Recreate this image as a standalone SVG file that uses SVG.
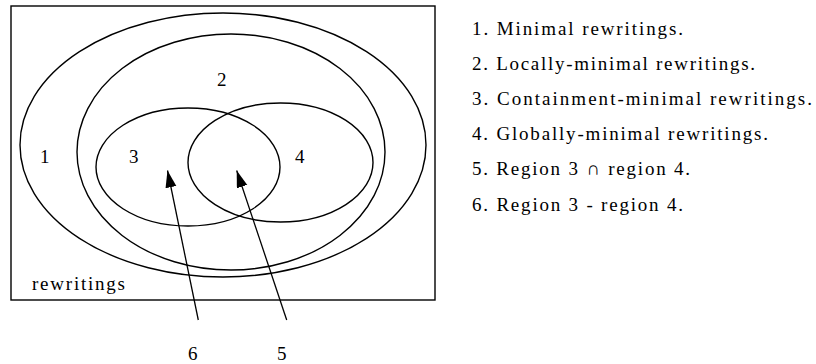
<svg xmlns="http://www.w3.org/2000/svg" width="816" height="364" viewBox="0 0 816 364">
<style>
.s{fill:none;stroke:#000;stroke-width:1.4}
.t{font-family:"Liberation Serif",serif;font-size:19px;fill:#000}
.c{stroke:#000;stroke-width:1.3;fill:none}
</style>
<defs>
<marker id="ah" markerUnits="userSpaceOnUse" markerWidth="18" markerHeight="12" refX="17" refY="5.5" orient="auto">
<path d="M0,0 L17,5.5 L0,11 Z" fill="#000"/>
</marker>
</defs>
<rect width="816" height="364" fill="#fff"/>
<g id="universe">
<rect class="s" x="11" y="6" width="424" height="294"/>
<text class="t" x="32" y="289.5" textLength="93" lengthAdjust="spacing">rewritings</text>
</g>
<g id="region1">
<ellipse class="s" cx="223" cy="145" rx="203" ry="132"/>
<text class="t" x="40" y="163">1</text>
</g>
<g id="region2">
<ellipse class="s" cx="231" cy="152" rx="154" ry="118"/>
<text class="t" x="217" y="86">2</text>
</g>
<g id="region3">
<ellipse class="s" cx="188" cy="167" rx="92" ry="59"/>
<text class="t" x="129" y="163">3</text>
</g>
<g id="region4">
<ellipse class="s" cx="280.5" cy="162.5" rx="92.5" ry="59.5"/>
<text class="t" x="295" y="163">4</text>
</g>
<g id="connectors">
<line class="c" x1="198.3" y1="320" x2="167.5" y2="170.5" marker-end="url(#ah)"/>
<line class="c" x1="286.7" y1="320" x2="236.7" y2="170.5" marker-end="url(#ah)"/>
</g>
<g id="label6"><text class="t" x="188" y="360">6</text></g>
<g id="label5"><text class="t" x="277" y="360">5</text></g>
<g id="legend">
<text class="t" x="472" y="35" textLength="211" lengthAdjust="spacing">1. Minimal rewritings.</text>
<text class="t" x="472" y="70" textLength="283" lengthAdjust="spacing">2. Locally-minimal rewritings.</text>
<text class="t" x="472" y="105" textLength="340" lengthAdjust="spacing">3. Containment-minimal rewritings.</text>
<text class="t" x="472" y="140" textLength="296" lengthAdjust="spacing">4. Globally-minimal rewritings.</text>
<text class="t" x="472" y="175" textLength="218" lengthAdjust="spacing">5. Region 3 ∩ region 4.</text>
<text class="t" x="472" y="211" textLength="211" lengthAdjust="spacing">6. Region 3 - region 4.</text>
</g>
</svg>
